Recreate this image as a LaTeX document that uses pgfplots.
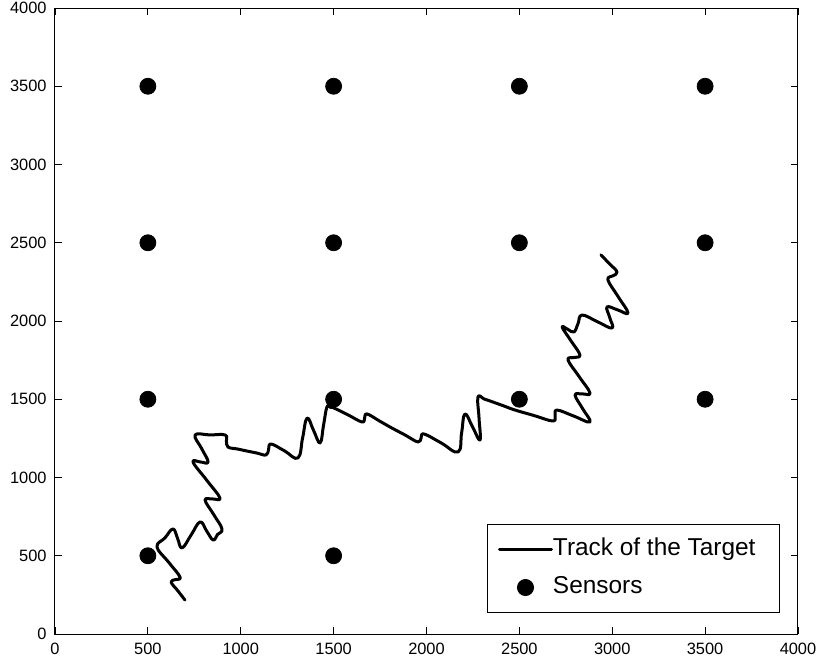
\documentclass[border=0pt]{standalone}
\usepackage{fontspec}
\setmainfont{Liberation Sans}
\usepackage{pgfplots}
\pgfplotsset{compat=1.18}
\pgfplotsset{
 mylinelegend/.style={legend image code/.code={\draw[##1, sharp plot] (0pt,0pt) -- (26pt,0pt);}},
 mymarklegend/.style={legend image code/.code={\draw[mark repeat=2,mark phase=2,##1] plot coordinates {(0pt,0pt) (13pt,0pt) (26pt,0pt)};}},
}
\begin{document}
\begin{tikzpicture}
\useasboundingbox (-27.5pt,-13.5pt) rectangle (382.5pt,317pt);
\begin{axis}[
 scale only axis, width=371.5pt, height=313pt,
 xmin=0,xmax=4000,ymin=0,ymax=4000,
 xtick={0,500,...,4000}, ytick={0,500,...,4000},
 tick align=inside, major tick length=3.5pt,
 axis line style={line width=0.5pt},
 every tick/.style={black, line width=0.4pt},
 tick label style={font=\fontsize{8.2}{10}\selectfont},
 xticklabel style={yshift=-0.8pt},
 yticklabel style={xshift=-0.7pt},
 /pgf/number format/assume math mode=true,
 /pgf/number format/1000 sep={},
 legend style={at={(0.9758,0.0335)}, anchor=south east, fill=white, draw=black, line width=0.5pt,
   font=\fontsize{12.2}{14}\selectfont, inner xsep=5.5pt, inner ysep=7pt, row sep=8pt,
   nodes={inner sep=0pt, text height=8.5pt, text depth=2.5pt},
   /tikz/every even column/.style={column sep=2.5pt}},
 legend cell align=left,
]
\addplot[black, line width=1.5pt, smooth, tension=0.7, line join=round, line cap=round,
  mylinelegend] coordinates {
(700,217) (662,275) (625,332) (649,348) (673,364) (611,460) (549,556) (592,614)
(635,671) (660,611) (684,550) (733,633) (781,716) (816,659) (851,601) (875,636)
(899,671) (854,764) (808,856) (848,863) (888,869) (816,984) (743,1099) (784,1099)
(824,1099) (789,1186) (754,1272) (835,1272) (915,1272) (923,1234) (931,1195)
(983,1182) (1034,1169) (1085,1157) (1136,1144) (1150,1179) (1163,1214) (1236,1170)
(1308,1125) (1333,1253) (1357,1380) (1392,1301) (1427,1221) (1446,1336) (1464,1451)
(1483,1448) (1502,1444) (1578,1400) (1653,1355) (1667,1381) (1680,1406) (1747,1361)
(1814,1316) (1884,1272) (1954,1227) (1971,1253) (1987,1278) (2079,1221) (2170,1163)
(2189,1285) (2207,1406) (2248,1323) (2288,1240) (2283,1377) (2277,1514) (2310,1502)
(2342,1489) (2410,1460) (2477,1431) (2579,1396) (2681,1361) (2692,1396) (2703,1431)
(2792,1393) (2880,1355) (2840,1441) (2800,1527) (2840,1534) (2880,1540) (2821,1646)
(2762,1751) (2794,1767) (2826,1783) (2778,1873) (2730,1962) (2762,1946) (2794,1930)
(2816,1984) (2837,2038) (2918,1997) (2999,1955) (2986,2023) (2972,2090) (3029,2071)
(3085,2051) (3031,2157) (2977,2262) (3002,2288) (3026,2313) (2983,2368) (2939,2423)
};
\addlegendentry{Track of the Target\hspace*{6.5pt}}
\addplot[only marks, mark=*, mark size=4pt, black, mymarklegend] coordinates {
(500,3500) (1500,3500) (2500,3500) (3500,3500)
(500,2500) (1500,2500) (2500,2500) (3500,2500)
(500,1500) (1500,1500) (2500,1500) (3500,1500)
(500,500) (1500,500) (2500,500) (3500,500)
};
\addlegendentry{Sensors}
\end{axis}
\end{tikzpicture}
\end{document}
